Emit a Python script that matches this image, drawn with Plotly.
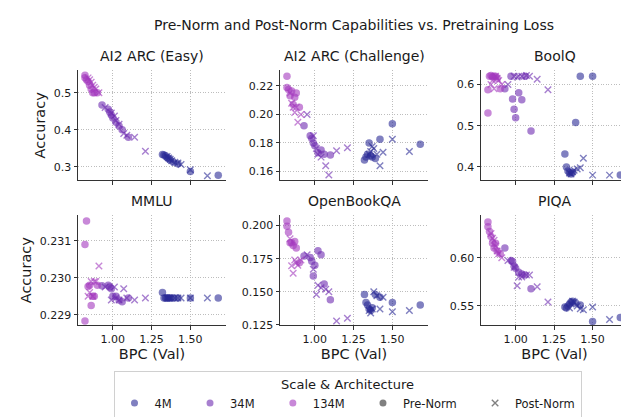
import plotly.graph_objects as go

# ---- shared BPC (x) values per model group ----
bpc_4m_pre = [1.32, 1.33, 1.34, 1.35, 1.36, 1.37, 1.39, 1.42, 1.50, 1.68]
bpc_4m_post = [1.35, 1.36, 1.37, 1.38, 1.40, 1.42, 1.44, 1.50, 1.61]
bpc_34m_pre = [0.93, 0.97, 0.98, 0.99, 1.00, 1.02, 1.04, 1.06, 1.10]
bpc_34m_post = [0.95, 0.99, 1.01, 1.02, 1.04, 1.07, 1.09, 1.14, 1.21]
bpc_134m_pre = [0.82, 0.82, 0.83, 0.84, 0.85, 0.86, 0.87, 0.88, 0.90]
bpc_134m_post = [0.84, 0.85, 0.86, 0.87, 0.88, 0.89, 0.91]

# ---- accuracies per task and group ----
arc_easy_4m_pre = [0.333, 0.332, 0.330, 0.325, 0.322, 0.318, 0.313, 0.308, 0.287, 0.277]
arc_easy_4m_post = [0.328, 0.324, 0.320, 0.316, 0.312, 0.310, 0.306, 0.292, 0.276]
arc_easy_34m_pre = [0.467, 0.455, 0.448, 0.440, 0.432, 0.420, 0.410, 0.400, 0.380]
arc_easy_34m_post = [0.460, 0.445, 0.437, 0.425, 0.415, 0.390, 0.385, 0.380, 0.342]
arc_easy_134m_pre = [0.547, 0.540, 0.535, 0.530, 0.520, 0.510, 0.500, 0.500, 0.500]
arc_easy_134m_post = [0.540, 0.535, 0.528, 0.520, 0.515, 0.510, 0.500]

arc_ch_4m_pre = [0.168, 0.170, 0.172, 0.180, 0.171, 0.170, 0.169, 0.1825, 0.1935, 0.179]
arc_ch_4m_post = [0.172, 0.174, 0.1775, 0.176, 0.172, 0.164, 0.1735, 0.1825, 0.174]
arc_ch_34m_pre = [0.192, 0.185, 0.183, 0.180, 0.178, 0.173, 0.175, 0.172, 0.1715]
arc_ch_34m_post = [0.200, 0.185, 0.176, 0.172, 0.170, 0.164, 0.1575, 0.1745, 0.1765]
arc_ch_134m_pre = [0.2267, 0.2188, 0.2175, 0.213, 0.2165, 0.207, 0.212, 0.215, 0.205]
arc_ch_134m_post = [0.215, 0.2078, 0.205, 0.2013, 0.205, 0.1944, 0.200]

boolq_4m_pre = [0.431, 0.400, 0.390, 0.385, 0.383, 0.387, 0.508, 0.620, 0.620, 0.380]
boolq_4m_post = [0.385, 0.383, 0.388, 0.392, 0.395, 0.398, 0.421, 0.380, 0.380]
boolq_34m_pre = [0.590, 0.620, 0.565, 0.540, 0.519, 0.580, 0.563, 0.620, 0.487]
boolq_34m_post = [0.600, 0.620, 0.618, 0.620, 0.620, 0.622, 0.620, 0.613, 0.587]
boolq_134m_pre = [0.587, 0.531, 0.620, 0.622, 0.618, 0.620, 0.620, 0.615, 0.590]
boolq_134m_post = [0.600, 0.610, 0.590, 0.620, 0.615, 0.610, 0.600]

mmlu_4m_pre = [0.2296, 0.22945, 0.22945, 0.22945, 0.22945, 0.22945, 0.22945, 0.22945, 0.22945, 0.22945]
mmlu_4m_post = [0.22945, 0.22945, 0.22945, 0.22945, 0.22945, 0.22945, 0.22945, 0.22945, 0.22945]
mmlu_34m_pre = [0.22978, 0.2298, 0.22975, 0.2297, 0.2295, 0.2295, 0.2294, 0.22935, 0.22945]
mmlu_34m_post = [0.22975, 0.2294, 0.22975, 0.22945, 0.2294, 0.2297, 0.22945, 0.2294, 0.22945]
mmlu_134m_pre = [0.2309, 0.22883, 0.23154, 0.22976, 0.2298, 0.22925, 0.2295, 0.2295, 0.2298]
mmlu_134m_post = [0.2295, 0.2296, 0.2299, 0.2295, 0.2299, 0.2299, 0.23032]

obqa_4m_pre = [0.148, 0.142, 0.140, 0.137, 0.136, 0.138, 0.148, 0.146, 0.142, 0.140]
obqa_4m_post = [0.136, 0.134, 0.137, 0.150, 0.147, 0.137, 0.146, 0.135, 0.136]
obqa_34m_pre = [0.177, 0.176, 0.173, 0.162, 0.170, 0.181, 0.178, 0.156, 0.144]
obqa_34m_post = [0.178, 0.167, 0.148, 0.155, 0.153, 0.152, 0.150, 0.128, 0.130]
obqa_134m_pre = [0.2035, 0.1995, 0.195, 0.187, 0.187, 0.185, 0.188, 0.183, 0.172]
obqa_134m_post = [0.190, 0.1696, 0.164, 0.174, 0.172, 0.170, 0.174]

piqa_4m_pre = [0.549, 0.548, 0.550, 0.552, 0.554, 0.555, 0.553, 0.551, 0.534, 0.538]
piqa_4m_post = [0.548, 0.552, 0.555, 0.554, 0.550, 0.547, 0.546, 0.549, 0.536]
piqa_34m_pre = [0.610, 0.597, 0.596, 0.591, 0.589, 0.585, 0.583, 0.582, 0.5677]
piqa_34m_post = [0.597, 0.590, 0.571, 0.580, 0.580, 0.582, 0.582, 0.570, 0.554]
piqa_134m_pre = [0.637, 0.632, 0.627, 0.622, 0.615, 0.610, 0.615, 0.607, 0.604]
piqa_134m_post = [0.625, 0.620, 0.618, 0.612, 0.607, 0.604, 0.600]

task_names = ["AI2 ARC (Easy)", "AI2 ARC (Challenge)", "BoolQ", "MMLU", "OpenBookQA", "PIQA"]
scale_names = ["4M", "34M", "134M"]
arch_names = ["Pre-Norm", "Post-Norm"]
scale_colors = ["#2b2b96", "#6e2bb1", "#a339be"]
x_ticks = [1.00, 1.25, 1.50]

y_ticks = [
    [0.3, 0.4, 0.5],
    [0.16, 0.18, 0.20, 0.22],
    [0.4, 0.5, 0.6],
    [0.229, 0.230, 0.231],
    [0.125, 0.150, 0.175, 0.200],
    [0.55, 0.60],
]
y_formats = [".1f", ".2f", ".1f", ".3f", ".3f", ".2f"]
y_ranges = [
    [0.263, 0.561],
    [0.1536, 0.2311],
    [0.367, 0.635],
    [0.22871, 0.23170],
    [0.1247, 0.208],
    [0.5299, 0.6442],
]

task_data = [
    [(arc_easy_4m_pre, arc_easy_4m_post), (arc_easy_34m_pre, arc_easy_34m_post), (arc_easy_134m_pre, arc_easy_134m_post)],
    [(arc_ch_4m_pre, arc_ch_4m_post), (arc_ch_34m_pre, arc_ch_34m_post), (arc_ch_134m_pre, arc_ch_134m_post)],
    [(boolq_4m_pre, boolq_4m_post), (boolq_34m_pre, boolq_34m_post), (boolq_134m_pre, boolq_134m_post)],
    [(mmlu_4m_pre, mmlu_4m_post), (mmlu_34m_pre, mmlu_34m_post), (mmlu_134m_pre, mmlu_134m_post)],
    [(obqa_4m_pre, obqa_4m_post), (obqa_34m_pre, obqa_34m_post), (obqa_134m_pre, obqa_134m_post)],
    [(piqa_4m_pre, piqa_4m_post), (piqa_34m_pre, piqa_34m_post), (piqa_134m_pre, piqa_134m_post)],
]
bpc_groups = [(bpc_4m_pre, bpc_4m_post), (bpc_34m_pre, bpc_34m_post), (bpc_134m_pre, bpc_134m_post)]

W, H = 629, 417
col_px = [(70, 218), (272, 420), (473, 620)]
row_px = [(63, 175), (210, 322)]
FONT = "DejaVu Sans"
TXT = "#1a1a1a"
OPA = 0.6
PAD = "\u00a0" * 3 + "\u2009"

fig = go.Figure()
layout = {}
annotations = []

for i, name in enumerate(task_names):
    r, c = divmod(i, 3)
    n = i + 1
    xa = "x" if n == 1 else f"x{n}"
    ya = "y" if n == 1 else f"y{n}"
    for s in range(3):
        (bpre, bpost) = bpc_groups[s]
        (apre, apost) = task_data[i][s]
        fig.add_trace(go.Scatter(
            x=bpre, y=apre, mode="markers", xaxis=xa, yaxis=ya, showlegend=False,
            marker=dict(symbol="circle", size=7.5, color=scale_colors[s], opacity=OPA,
                        line=dict(width=0)),
            hoverinfo="skip"))
        fig.add_trace(go.Scatter(
            x=bpost, y=apost, mode="markers", xaxis=xa, yaxis=ya, showlegend=False,
            marker=dict(symbol="x-thin", size=6.5, color=scale_colors[s], opacity=OPA,
                        line=dict(width=1.4, color=scale_colors[s])),
            hoverinfo="skip"))
    x0, x1 = col_px[c]
    t0, t1 = row_px[r]
    common = dict(showline=True, linecolor="#333333", linewidth=1, mirror=False,
                  ticks="outside", ticklen=3.5, tickwidth=1, tickcolor="#333333",
                  showgrid=True, gridcolor="#bdbdbd", griddash="1px,1.6px", gridwidth=0.8,
                  zeroline=False, tickfont=dict(family=FONT, size=11, color=TXT))
    xkey = "xaxis" if n == 1 else f"xaxis{n}"
    ykey = "yaxis" if n == 1 else f"yaxis{n}"
    layout[xkey] = dict(common, domain=[x0 / W, x1 / W], anchor=ya, range=[0.775, 1.73],
                        tickvals=x_ticks, tickformat=".2f", showticklabels=(r == 1),
                        title=dict(text="BPC (Val)" if r == 1 else "",
                                   font=dict(family=FONT, size=14.5, color=TXT), standoff=2))
    layout[ykey] = dict(common, domain=[1 - t1 / H, 1 - t0 / H], anchor=xa, range=y_ranges[i],
                        tickvals=y_ticks[i], tickformat=y_formats[i],
                        title=dict(text="Accuracy" if c == 0 else "",
                                   font=dict(family=FONT, size=14.5, color=TXT), standoff=4))
    annotations.append(dict(text=name, x=(x0 + x1) / 2 / W, y=1 - (t0 - 4) / H,
                            xref="paper", yref="paper", xanchor="center", yanchor="bottom",
                            showarrow=False, font=dict(family=FONT, size=14, color=TXT)))

# legend-only traces
for s in range(3):
    fig.add_trace(go.Scatter(x=[None], y=[None], mode="markers", name=scale_names[s] + PAD,
                             marker=dict(symbol="circle", size=7, color=scale_colors[s], opacity=OPA)))
fig.add_trace(go.Scatter(x=[None], y=[None], mode="markers", name=arch_names[0] + PAD,
                         marker=dict(symbol="circle", size=7, color="#808080")))
fig.add_trace(go.Scatter(x=[None], y=[None], mode="markers", name=arch_names[1],
                         marker=dict(symbol="x-thin", size=6.5, color="#808080",
                                     line=dict(width=1.4, color="#808080"))))

fig.update_layout(
    width=W, height=H,
    margin=dict(l=0, r=0, t=0, b=0),
    paper_bgcolor="white", plot_bgcolor="white",
    font=dict(family=FONT, size=11, color=TXT),
    title=dict(text="Pre-Norm and Post-Norm Capabilities vs. Pretraining Loss",
               x=346 / W, xanchor="center", y=1 - 17 / H, yanchor="middle",
               font=dict(family=FONT, size=14, color=TXT)),
    annotations=annotations,
    legend=dict(orientation="h", x=339.5 / W, xanchor="center", y=1 - 368 / H, yanchor="top",
                title=dict(text="Scale & Architecture", side="top center",
                           font=dict(family=FONT, size=13, color=TXT)),
                bordercolor="#d0d0d0", borderwidth=1, bgcolor="white",
                font=dict(family=FONT, size=11.5, color=TXT), itemwidth=30,
                tracegroupgap=0),
    showlegend=True,
    **layout,
)

fig.write_html("out.html")
